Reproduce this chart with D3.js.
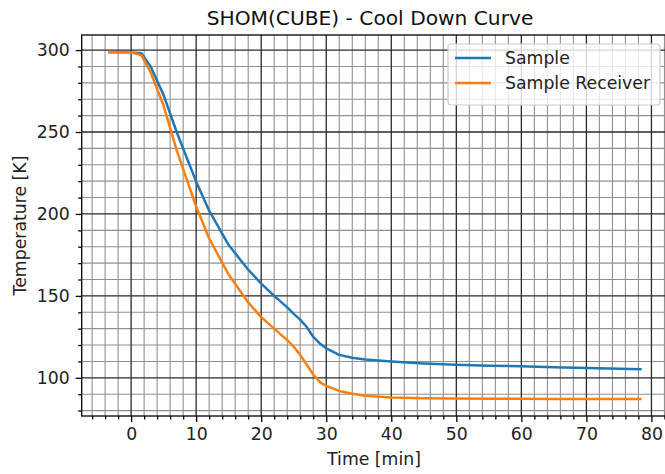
<!DOCTYPE html>
<html>
<head>
<meta charset="utf-8">
<script src="https://cdn.jsdelivr.net/npm/d3@7"></script>
<style>
  body { margin: 0; background: #fff; }
  svg { display: block; font-family: "DejaVu Sans", sans-serif; }
</style>
</head>
<body>
<script>
// time axis [min]
var time = [-3.5, 0, 1.6, 3, 5, 7, 10, 12, 15, 18, 20, 22, 24, 25, 26, 27, 28, 29, 30, 32, 34, 36, 40, 45, 50, 55, 60, 65, 70, 75, 78.5];
// temperatures [K]
var sample = [298.6, 298.6, 298, 290, 272.5, 250, 219.7, 202, 181, 166, 157.5, 150, 143, 139, 135.5, 131, 125, 121, 118, 114, 112.3, 111.2, 110, 108.8, 108, 107.4, 107, 106.5, 106, 105.6, 105.3];
var receiver = [298.6, 298.6, 296.8, 286.5, 266, 239, 204.5, 185, 163, 146, 137, 130, 123, 119, 114, 108, 102, 97.5, 95, 92, 90.3, 89, 88, 87.6, 87.4, 87.3, 87.2, 87.1, 87.1, 87, 87];
var seriesNames = ["Sample", "Sample Receiver"];
var seriesColors = ["#1f77b4", "#ff7f0e"];
var xTicks = [0, 10, 20, 30, 40, 50, 60, 70, 80];
var yTicks = [100, 150, 200, 250, 300];

var W = 665, H = 474;
var pL = 81.7, pR = 669, pT = 35, pB = 416;
var fs = 17.3;

var svg = d3.select('body').append('svg').attr('width', W).attr('height', H);

var x = d3.scaleLinear().domain([-7.6, 82.7]).range([pL, pR]);
var y = d3.scaleLinear().domain([76.7, 309.2]).range([pB, pT]);

var xMinor = d3.range(-6, 83, 2).filter(function (v) { return v % 10 !== 0; });
var yMinor = d3.range(80, 310, 10).filter(function (v) { return v % 50 !== 0; });

// grid
var grid = svg.append('g');
grid.selectAll('.xm').data(xMinor).enter().append('line')
    .attr('x1', function (d) { return x(d); }).attr('x2', function (d) { return x(d); })
    .attr('y1', pT).attr('y2', pB).attr('stroke', '#909090').attr('stroke-width', 1.1);
grid.selectAll('.ym').data(yMinor).enter().append('line')
    .attr('y1', function (d) { return y(d); }).attr('y2', function (d) { return y(d); })
    .attr('x1', pL).attr('x2', pR).attr('stroke', '#909090').attr('stroke-width', 1.1);
grid.selectAll('.xM').data(xTicks).enter().append('line')
    .attr('x1', function (d) { return x(d); }).attr('x2', function (d) { return x(d); })
    .attr('y1', pT).attr('y2', pB).attr('stroke', '#2a2a2a').attr('stroke-width', 1.3);
grid.selectAll('.yM').data(yTicks).enter().append('line')
    .attr('y1', function (d) { return y(d); }).attr('y2', function (d) { return y(d); })
    .attr('x1', pL).attr('x2', pR).attr('stroke', '#2a2a2a').attr('stroke-width', 1.3);

// curves
var line = d3.line()
    .x(function (d, i) { return x(time[i]); })
    .y(function (d) { return y(d); });
[sample, receiver].forEach(function (s, i) {
    svg.append('path').datum(s).attr('d', line)
        .attr('fill', 'none').attr('stroke', seriesColors[i]).attr('stroke-width', 2.5)
        .attr('stroke-linejoin', 'round').attr('stroke-linecap', 'butt');
});

// axes
function styleAxis(g) {
    g.select('.domain').remove();
    g.selectAll('.tick line').attr('stroke', '#000').attr('stroke-width', 1.3);
    g.selectAll('text').attr('fill', '#222').style('font-size', fs + 'px').style('font-family', '"DejaVu Sans", sans-serif');
}
svg.append('g').attr('transform', 'translate(0,' + pB + ')')
    .call(d3.axisBottom(x).tickValues(xMinor).tickSize(3.5).tickFormat(''))
    .call(styleAxis);
svg.append('g').attr('transform', 'translate(0,' + pB + ')')
    .call(d3.axisBottom(x).tickValues(xTicks).tickSize(6).tickPadding(5.5).tickFormat(d3.format('d')))
    .call(styleAxis);
svg.append('g').attr('transform', 'translate(' + pL + ',0)')
    .call(d3.axisLeft(y).tickValues(yMinor).tickSize(3.5).tickFormat(''))
    .call(styleAxis);
svg.append('g').attr('transform', 'translate(' + pL + ',0)')
    .call(d3.axisLeft(y).tickValues(yTicks).tickSize(6).tickPadding(6).tickFormat(d3.format('d')))
    .call(styleAxis);

// spines
svg.append('rect').attr('x', pL).attr('y', pT).attr('width', pR - pL).attr('height', pB - pT)
    .attr('fill', 'none').attr('stroke', '#000').attr('stroke-width', 1.3);

// labels
svg.append('text').attr('x', 370).attr('y', 25).attr('text-anchor', 'middle')
    .style('font-size', '20.2px').attr('fill', '#111').text('SHOM(CUBE) - Cool Down Curve');
svg.append('text').attr('x', 374).attr('y', 465).attr('text-anchor', 'middle')
    .style('font-size', fs + 'px').attr('fill', '#222').text('Time [min]');
svg.append('text').attr('transform', 'translate(26,' + ((pT + pB) / 2) + ') rotate(-90)')
    .attr('text-anchor', 'middle').style('font-size', fs + 'px').attr('fill', '#222').text('Temperature [K]');

// legend
var lg = svg.append('g');
lg.append('rect').attr('x', 448).attr('y', 44).attr('width', 212).attr('height', 61).attr('rx', 3)
    .attr('fill', '#fff').attr('fill-opacity', 0.8).attr('stroke', '#ccc').attr('stroke-width', 1.2);
seriesNames.forEach(function (n, i) {
    var yy = 58 + i * 25;
    lg.append('line').attr('x1', 455).attr('x2', 491).attr('y1', yy).attr('y2', yy)
        .attr('stroke', seriesColors[i]).attr('stroke-width', 2.5);
    lg.append('text').attr('x', 505).attr('y', yy).attr('dy', '0.35em')
        .style('font-size', fs + 'px').attr('fill', '#222').text(n);
});
</script>
</body>
</html>
